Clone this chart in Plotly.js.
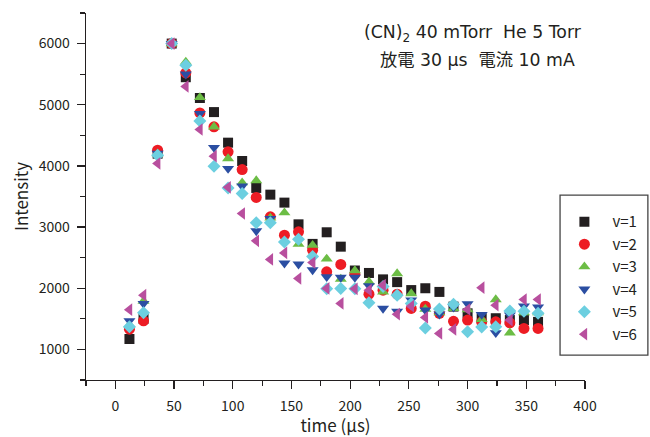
<!DOCTYPE html>
<html>
<head>
<meta charset="utf-8">
<script src="https://cdn.plot.ly/plotly-3.0.1.min.js"></script>
<style>
  html, body { margin: 0; padding: 0; background: #fff; }
  #chart { width: 650px; height: 437px; }
</style>
</head>
<body>
<div id="chart"></div>
<script>
// time in microseconds
const time = [12, 24, 36, 48, 60, 72, 84, 96, 108, 120, 132, 144, 156, 168, 180,
              192, 204, 216, 228, 240, 252, 264, 276, 288, 300, 312, 324, 336, 348, 360];

const v1 = [1170, 1500, 4200, 6000, 5450, 5110, 4880, 4380, 4080, 3640, 3530, 3400, 3045, 2725, 2915,
            2680, 2290, 2250, 2145, 2100, 1970, 2000, 1940, 1700, 1590, 1510, 1510, 1480, 1480, 1450];
const v2 = [1330, 1467, 4257, 6000, 5520, 4866, 4640, 4230, 3941, 3484, 3167, 2868, 2922, 2623, 2268,
            2390, 2230, 1903, 1969, 1903, 1670, 1707, 1590, 1460, 1479, 1450, 1451, 1435, 1343, 1343];
const v3 = [1400, 1790, 4200, 6000, 5700, 5120, 4640, 4120, 3725, 3760, 3150, 3235, 2720, 2704, 2480,
            2150, 2290, 2105, 1941, 2241, 1914, 1660, 1600, 1670, 1650, 1490, 1816, 1271, 1600, 1600];
const v4 = [1467, 1750, 4203, 6000, 5500, 4856, 4300, 3957, 3668, 2938, 3140, 2410, 2394, 2300, 2186,
            2176, 2176, 2040, 1670, 1620, 1806, 1642, 1576, 1690, 1745, 1570, 1271, 1560, 1707, 1690];
const v5 = [1370, 1600, 4175, 6000, 5645, 4735, 3995, 3640, 3549, 3069, 3069, 2758, 2800, 2520, 1990,
            1997, 1990, 1761, 2030, 1887, 1750, 1350, 1660, 1740, 1288, 1365, 1370, 1628, 1626, 1590];
const v6 = [1650, 1887, 4040, 6000, 5300, 4595, 4160, 3650, 3222, 2775, 2471, 2578, 2160, 2420, 1997,
            1752, 1990, 1969, 2051, 1576, 1707, 1523, 1262, 1327, 1653, 2010, 1723, 1479, 1816, 1816];

const seriesNames = ['v=1', 'v=2', 'v=3', 'v=4', 'v=5', 'v=6'];
const seriesData = [v1, v2, v3, v4, v5, v6];
const symbols = ['square', 'circle', 'triangle-up', 'triangle-down', 'diamond', 'triangle-left'];
const colors = ['#231f20', '#ed1c24', '#6cbd45', '#2b4ea2', '#6ccfe0', '#b84f9e'];
const sizes = [10, 11, 10.5, 10.5, 10, 11];

const FONT = '"Noto Sans CJK JP", "Liberation Sans", sans-serif';
const NOTE_FONT = '"DejaVu Sans", "Noto Sans CJK JP", sans-serif';
const INK = '#231f20';
const SP = '\u00a0';

const traces = seriesData.map((ys, i) => ({
  x: time,
  y: ys,
  type: 'scatter',
  mode: 'markers',
  name: seriesNames[i],
  marker: { symbol: symbols[i], color: colors[i], size: sizes[i], line: { width: 0 } }
}));

const layout = {
  width: 650,
  height: 437,
  margin: { l: 86, r: 65, t: 13, b: 57, pad: 0, autoexpand: false },
  paper_bgcolor: '#ffffff',
  plot_bgcolor: '#ffffff',
  font: { family: FONT, color: INK, size: 14 },
  showlegend: true,
  legend: {
    xref: 'container', yref: 'container',
    x: 0.856, y: 0.53, xanchor: 'left', yanchor: 'top',
    bgcolor: 'rgba(0,0,0,0)', borderwidth: 0,
    itemwidth: 46,
    font: { family: FONT, size: 15, color: INK },
    tracegroupgap: 0
  },
  xaxis: {
    range: [-25, 400],
    automargin: true,
    tickmode: 'array',
    tickvals: [0, 50, 100, 150, 200, 250, 300, 350, 400],
    ticks: 'outside', ticklen: 8, tickwidth: 1.2, tickcolor: INK,
    minor: { dtick: 25, tick0: 0, ticks: 'outside', ticklen: 5, tickwidth: 1.2, tickcolor: INK },
    showline: true, linecolor: INK, linewidth: 1.3,
    showgrid: false, zeroline: false,
    tickfont: { family: FONT, size: 14, color: INK },
    ticklabelstandoff: 5,
    title: { text: 'time (μs)', font: { family: FONT, size: 17, color: INK }, standoff: 4 }
  },
  yaxis: {
    range: [500, 6500],
    automargin: false,
    tickmode: 'array',
    tickvals: [1000, 2000, 3000, 4000, 5000, 6000],
    ticks: 'outside', ticklen: 8, tickwidth: 1.2, tickcolor: INK,
    minor: { dtick: 500, tick0: 0, ticks: 'outside', ticklen: 5, tickwidth: 1.2, tickcolor: INK },
    showline: true, linecolor: INK, linewidth: 1.3,
    showgrid: false, zeroline: false,
    tickfont: { family: FONT, size: 14, color: INK },
    ticklabelstandoff: 4,
    title: { text: 'Intensity', font: { family: FONT, size: 17, color: INK }, standoff: 6 }
  },
  shapes: [{
    type: 'rect', xref: 'paper', yref: 'paper',
    x0: 0.950, x1: 1.126, y0: 0.068, y1: 0.504,
    line: { color: '#444', width: 1.3 }, fillcolor: 'rgba(0,0,0,0)'
  }],
  annotations: [
    {
      xref: 'paper', yref: 'paper', x: 0.776, y: 0.945, xanchor: 'center', yanchor: 'middle',
      showarrow: false, text: '(CN)<sub>2</sub> 40 mTorr' + SP + SP + 'He 5 Torr',
      font: { family: NOTE_FONT, size: 17.3, color: INK }
    },
    {
      xref: 'paper', yref: 'paper', x: 0.784, y: 0.872, xanchor: 'center', yanchor: 'middle',
      showarrow: false, text: '放電' + SP + '30' + SP + 'μs' + SP + SP + '電流' + SP + '10' + SP + 'mA',
      font: { family: NOTE_FONT, size: 17.3, color: INK }
    }
  ]
};

Plotly.newPlot('chart', traces, layout, { displayModeBar: false, staticPlot: true });
</script>
</body>
</html>
